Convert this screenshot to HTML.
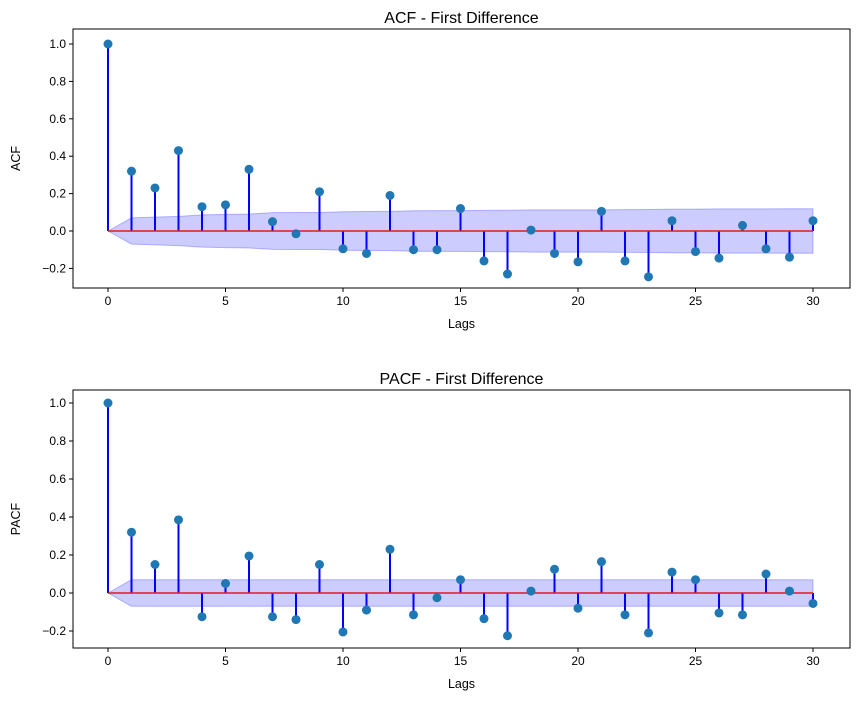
<!DOCTYPE html>
<html><head><meta charset="utf-8"><style>
body{margin:0;background:#fff;}
svg{display:block;font-family:"Liberation Sans","DejaVu Sans",sans-serif;}
</style></head><body>
<svg id="chart" width="857" height="701"></svg>
<script>
const lags = Array.from({length:31},(_,i)=>i);
const acfValues = [1.0,0.32,0.23,0.43,0.13,0.14,0.33,0.05,-0.015,0.21,-0.095,-0.12,0.19,-0.10,-0.10,0.12,-0.16,-0.23,0.005,-0.12,-0.165,0.105,-0.16,-0.245,0.055,-0.11,-0.145,0.03,-0.095,-0.14,0.055];
const acfBand = [0,0.07,0.074,0.078,0.086,0.089,0.091,0.098,0.099,0.099,0.103,0.104,0.105,0.108,0.109,0.109,0.11,0.111,0.113,0.113,0.113,0.113,0.114,0.115,0.117,0.117,0.118,0.118,0.118,0.119,0.119];
const pacfValues = [1.0,0.32,0.15,0.385,-0.125,0.05,0.195,-0.125,-0.14,0.15,-0.205,-0.09,0.23,-0.115,-0.025,0.07,-0.135,-0.225,0.01,0.125,-0.08,0.165,-0.115,-0.21,0.11,0.07,-0.105,-0.115,0.10,0.01,-0.055];
const pacfBand = [0,0.07,0.07,0.07,0.07,0.07,0.07,0.07,0.07,0.07,0.07,0.07,0.07,0.07,0.07,0.07,0.07,0.07,0.07,0.07,0.07,0.07,0.07,0.07,0.07,0.07,0.07,0.07,0.07,0.07,0.07];
const yTicks = [-0.2,0,0.2,0.4,0.6,0.8,1.0];
const xTicks = [0,5,10,15,20,25,30];

const svg = document.getElementById('chart');
const NS='http://www.w3.org/2000/svg';
function mk(tag,attrs,parent){const e=document.createElementNS(NS,tag);for(const k in attrs)e.setAttribute(k,attrs[k]);(parent||svg).appendChild(e);return e;}

function panel(cfg){
  const g=mk('g',{});
  
  
  const L=73,R=850,T=cfg.top,B=cfg.bottom;
  const xs=v=>108+(v)*(813-108)/30;
  const ys=v=>cfg.y0-(v)*cfg.k;
  // band
  let d='M'+lags.map(l=>xs(l)+','+ys(cfg.band[l])).join('L');
  d+='L'+lags.slice().reverse().map(l=>xs(l)+','+ys(-cfg.band[l])).join('L')+'Z';
  const band=mk('path',{d:d,fill:'rgba(0,0,255,0.2)',stroke:'rgba(0,0,255,0.25)','stroke-width':1},g);
  
  
  // stems
  lags.forEach(l=>{
    const s=mk('line',{x1:xs(l),x2:xs(l),y1:ys(0),y2:ys(cfg.values[l]),stroke:'#0000ff','stroke-width':2},g);
    
    
  });
  const base=mk('line',{x1:xs(0),x2:xs(30),y1:ys(0),y2:ys(0),stroke:'#e41a1c','stroke-width':1.5},g);
  
  
  lags.forEach(l=>{
    const c=mk('circle',{cx:xs(l),cy:ys(cfg.values[l]),r:4.5,fill:'#1f77b4'},g);
    
    
  });
  const fr=mk('rect',{x:L,y:T,width:R-L,height:B-T,fill:'none',stroke:'#000','stroke-width':1},g);
  
  
  yTicks.forEach(v=>{
    mk('line',{x1:L-4,x2:L,y1:ys(v),y2:ys(v),stroke:'#000'},g);
    const t=mk('text',{x:L-7,y:ys(v)+4,'text-anchor':'end','font-size':12},g);
    t.textContent=(v<0?'\u2212'+Math.abs(v).toFixed(1):v.toFixed(1));
    
    
  });
  xTicks.forEach(v=>{
    mk('line',{x1:xs(v),x2:xs(v),y1:B,y2:B+4,stroke:'#000'},g);
    const t=mk('text',{x:xs(v),y:B+17,'text-anchor':'middle','font-size':12},g);
    t.textContent=v;
    
    
  });
  const ti=mk('text',{x:(L+R)/2,y:T-6,'text-anchor':'middle','font-size':16},g);
  ti.textContent=cfg.title;
  
  
  const xl=mk('text',{x:(L+R)/2,y:B+40,'text-anchor':'middle','font-size':12.5},g);
  xl.textContent='Lags';
  
  
  const yc=(T+B)/2;
  const yl=mk('text',{x:20,y:yc,'text-anchor':'middle','font-size':12.5,transform:'rotate(-90 20 '+yc+')'},g);
  yl.textContent=cfg.ylabel;
  
  
}
panel({name:'acf',top:29,bottom:288,y0:231,k:187,values:acfValues,band:acfBand,title:'ACF - First Difference',ylabel:'ACF'});
panel({name:'pacf',top:390,bottom:648,y0:593,k:190,values:pacfValues,band:pacfBand,title:'PACF - First Difference',ylabel:'PACF'});
</script>
</body></html>
